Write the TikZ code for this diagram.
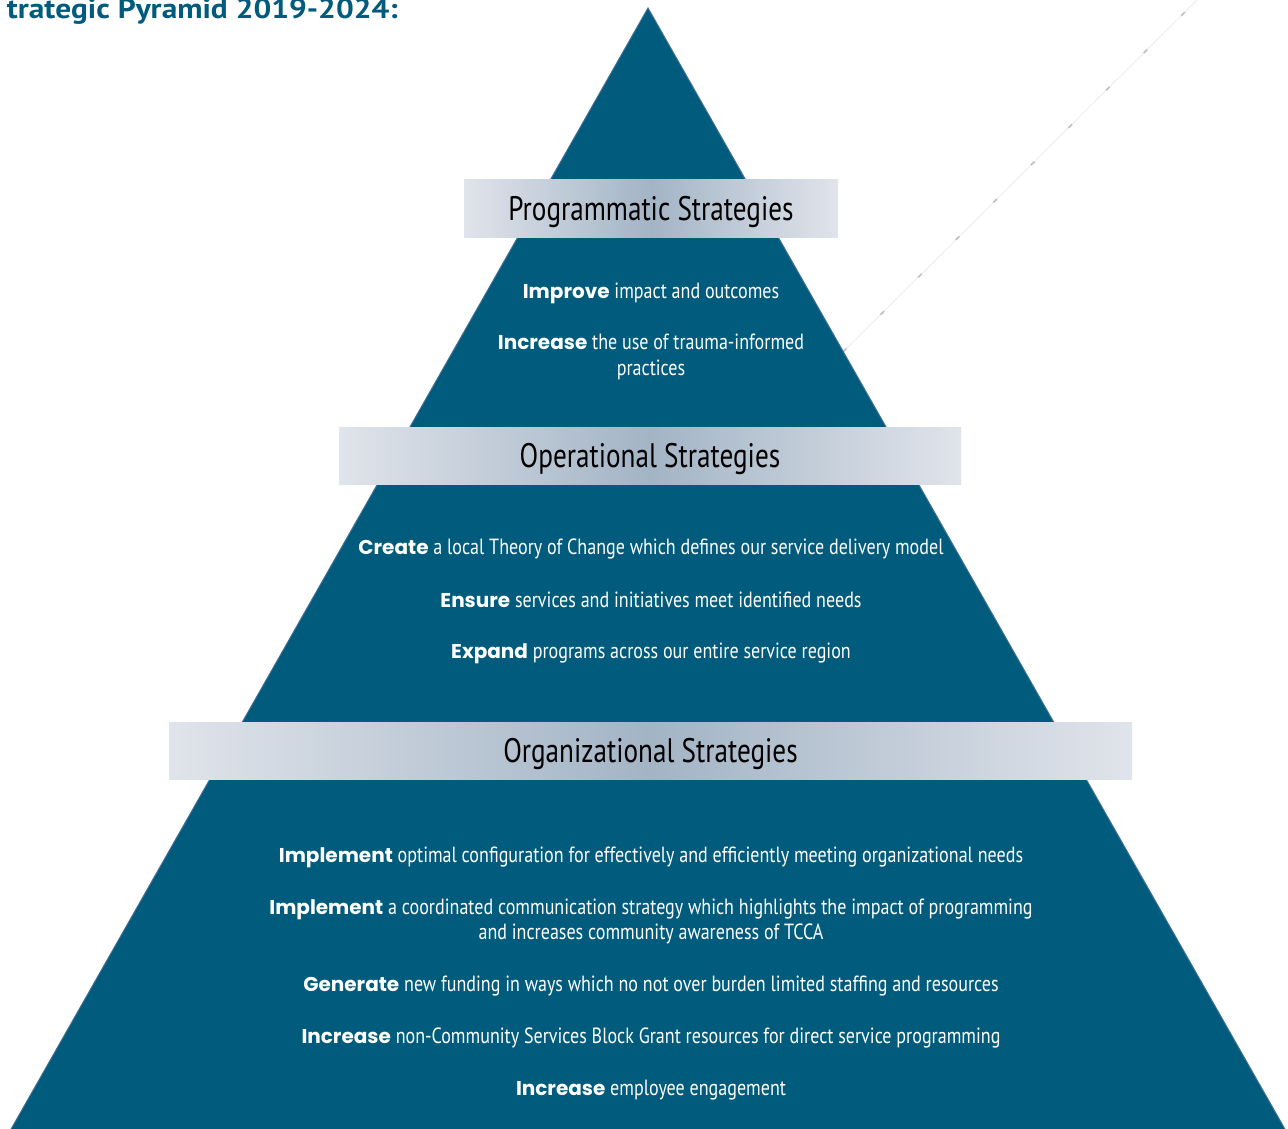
\documentclass[tikz,border=0pt]{standalone}
\usepackage{fontspec}
\setmainfont{PT Sans}
\newfontfamily\condfont[FakeStretch=0.82]{PT Sans}
\newfontfamily\bandfont[FakeStretch=0.80]{PT Sans}
\newfontfamily\titlefont[FakeStretch=1.12]{PT Sans}
\newfontfamily\heavyfont{Poppins}
\definecolor{pyrblue}{HTML}{005B7C}
\definecolor{pyredge}{HTML}{3F6E96}
\definecolor{bandlight}{HTML}{E0E4EB}
\definecolor{banddark}{HTML}{A3B4C5}
\definecolor{titleblue}{HTML}{005B7C}
\tikzset{
  band/.style={left color=bandlight, right color=bandlight, middle color=banddark,
    inner sep=0, text depth=0pt, font=\bandfont\fontsize{34}{38}\selectfont, text=black},
  item/.style={anchor=base, inner sep=0, text=white,
    font=\condfont\fontsize{22}{26}\selectfont},
}
\newcommand{\kw}[1]{{\heavyfont\bfseries\fontsize{20}{25}\selectfont #1}}

\begin{document}
\begin{tikzpicture}[x=1pt,y=-1pt]
\useasboundingbox (0,0) rectangle (1288,1129);
\fill[white] (0,0) rectangle (1288,1129);

% faint dashed leader running up to the right
\coordinate (leadlow) at (843,352);
\coordinate (leadhigh) at (1197,0);
\draw[gray!15, line width=0.8pt] (leadlow) -- (leadhigh);
\draw[gray!50, line width=1.6pt, dash pattern=on 5pt off 48pt] (leadlow) -- (leadhigh);

% pyramid body
\coordinate (apex) at (648,8);
\coordinate (baseleft) at (10,1131);
\coordinate (baseright) at (1286,1131);
\filldraw[fill=pyrblue, draw=pyredge, line width=1pt] (apex) -- (baseright) -- (baseleft) -- cycle;

% title
\node[anchor=base east, inner sep=0, text=titleblue,
      font=\titlefont\bfseries\fontsize{28}{30}\selectfont] (title) at (398,19) {trategic Pyramid 2019-2024:};

% tier bands
\node[band, minimum width=374, minimum height=58] (prog) at (651,208) {Programmatic Strategies};
\node[band, minimum width=622, minimum height=57] (oper) at (650,455.5) {Operational Strategies};
\node[band, minimum width=963, minimum height=57] (orgn) at (650.5,750.5) {Organizational Strategies};

% programmatic goals
\node[item] (p1)  at (651,298) {\kw{Improve} impact and outcomes};
\node[item] (p2a) at (651,349) {\kw{Increase} the use of trauma-informed};
\node[item] (p2b) at (651,375) {practices};

% operational goals
\node[item] (o1) at (651,554) {\kw{Create} a local Theory of Change which defines our service delivery model};
\node[item] (o2) at (651,607) {\kw{Ensure} services and initiatives meet identified needs};
\node[item] (o3) at (651,658) {\kw{Expand} programs across our entire service region};

% organizational goals
\node[item] (g1)  at (651,862)  {\kw{Implement} optimal configuration for effectively and efficiently meeting organizational needs};
\node[item] (g2a) at (651,914)  {\kw{Implement} a coordinated communication strategy which highlights the impact of programming};
\node[item] (g2b) at (651,939)  {and increases community awareness of TCCA};
\node[item] (g3)  at (651,991)  {\kw{Generate} new funding in ways which no not over burden limited staffing and resources};
\node[item] (g4)  at (651,1043) {\kw{Increase} non-Community Services Block Grant resources for direct service programming};
\node[item] (g5)  at (651,1095) {\kw{Increase} employee engagement};
\end{tikzpicture}
\end{document}
